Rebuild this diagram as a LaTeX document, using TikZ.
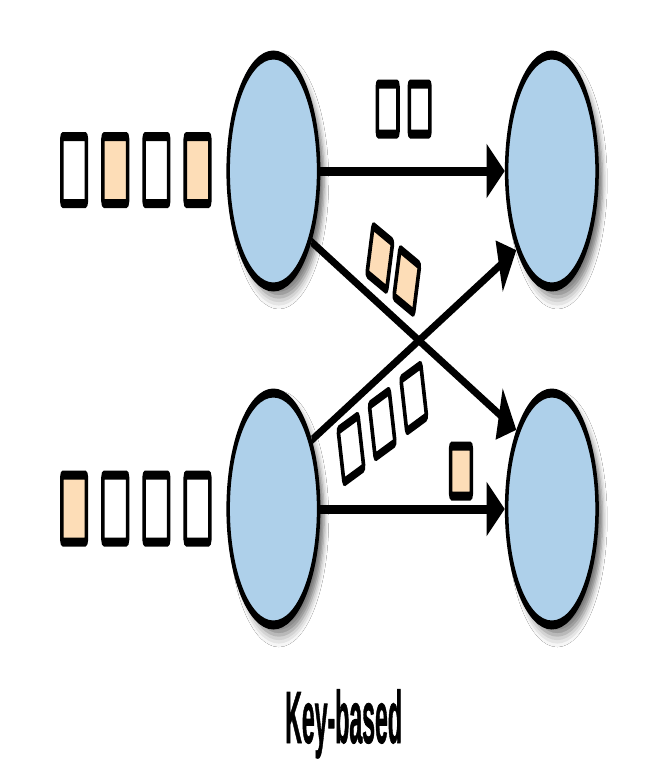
\documentclass[tikz,border=0pt]{standalone}
\usepackage{fontspec}
\setmainfont{Liberation Sans}
\newfontfamily\keyfont[FakeStretch=0.8, BoldFeatures={FakeBold=1.2}]{Liberation Sans}
\usetikzlibrary{positioning,arrows.meta,shadows.blur}
\definecolor{procblue}{RGB}{174,208,234}
\definecolor{msgorange}{RGB}{253,221,183}

\begin{document}
\begin{tikzpicture}[x=1pt,y=-1pt,
        proc/.style={circle, draw, line width=9pt, fill=procblue, inner sep=0pt,
        minimum size=232pt,
        blur shadow={shadow xshift=14pt, shadow yshift=-10pt, shadow blur radius=12pt, shadow opacity=55}},
        msg/.style={rectangle, draw, line width=9pt, fill=#1, rounded corners=3pt,
        inner sep=0pt, minimum width=63pt, minimum height=67pt},
        msg/.default=white,
        small msg/.style={msg=#1, minimum width=53pt, minimum height=50pt},
        small msg/.default=white,
        flow/.style={line width=9pt, -{Triangle[length=47pt,width=52pt]}}
        ]
    \fill[white] (0,0) rectangle (648,774);
    \begin{scope}[transform canvas={xscale=0.39}]

        % incoming messages
        \node [msg] (a1m1) at (190,170) {};
        \node [msg=msgorange] (a1m2) [right=33.5pt of a1m1] {};
        \node [msg] (a1m3) [right=33.5pt of a1m2] {};
        \node [msg=msgorange] (a1m4) [right=33.5pt of a1m3] {};

        \node [msg=msgorange] (a2m1) at (190,508.5) {};
        \node [msg] (a2m2) [right=33.5pt of a2m1] {};
        \node [msg] (a2m3) [right=33.5pt of a2m2] {};
        \node [msg] (a2m4) [right=33.5pt of a2m3] {};

        % tasks
        \node [proc] (a1) at (701,171) {};
        \node [proc] (b1) at (1415,171) {};
        \node [proc] (a2) at (701,509) {};
        \node [proc] (b2) at (1415,509) {};

        \path[flow]
        (a1) edge (b1)
        (a1.-36) edge (b2.139)
        (a2.35) edge (b1.221)
        (a2) edge (b2)
        ;

        % messages in flight
        \node [small msg] (m1) at (994,109) {};
        \node [small msg] (m2) [right=20pt of m1] {};
        \node [small msg=msgorange, rotate=-18] (m3) at (974,258) {};
        \node [small msg=msgorange, rotate=-18] (m4) at (1043,281) {};
        \node [small msg, rotate=16, minimum height=54pt] (m5) at (900,449) {};
        \node [small msg, rotate=16, minimum height=54pt] (m6) at (980,424) {};
        \node [small msg, rotate=16, minimum height=54pt] (m7) at (1061,398) {};
        \node [small msg=msgorange] (m8) at (1182,471) {};

        \node [font=\keyfont\bfseries\fontsize{74}{80}\selectfont, anchor=base] (title) at (881,743) {Key-based};
    \end{scope}
\end{tikzpicture}
\end{document}
